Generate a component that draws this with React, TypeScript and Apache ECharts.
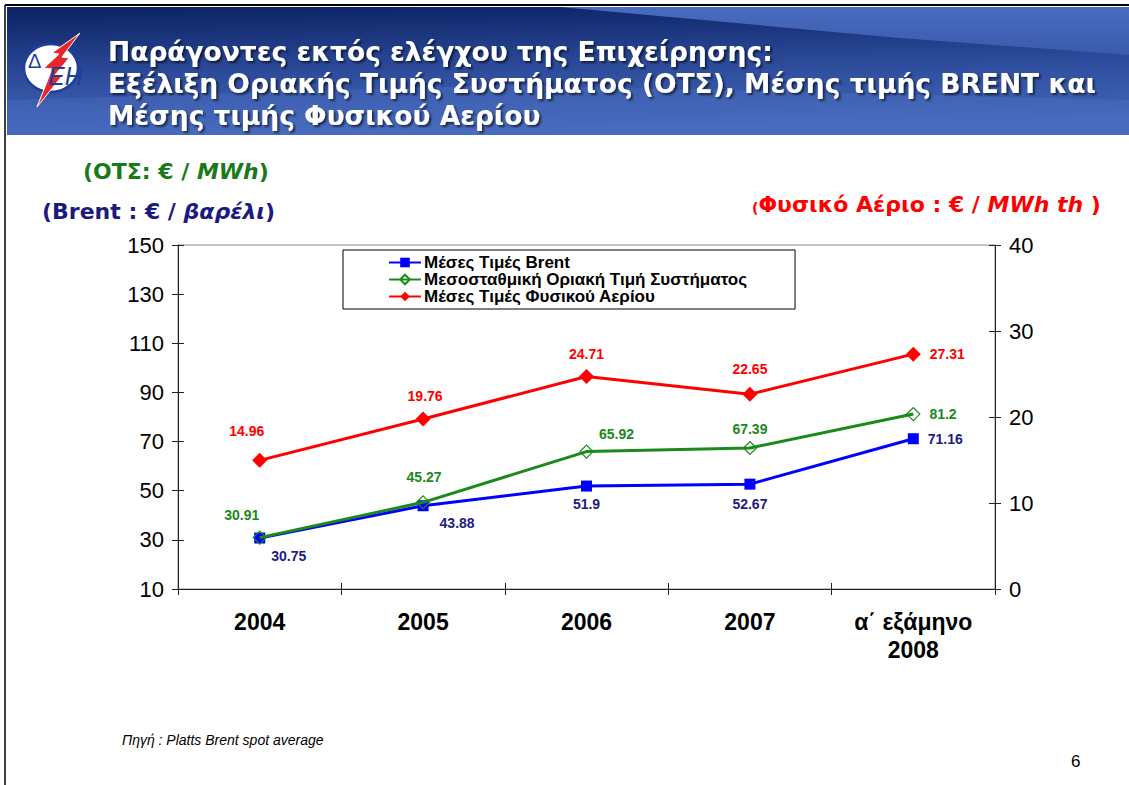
import React, { useEffect, useRef } from "react";
import * as echarts from "echarts";

const categories = ["2004", "2005", "2006", "2007", "α΄ εξάμηνο\n2008"];
const brent = [30.75, 43.88, 51.9, 52.67, 71.16];
const ots = [30.91, 45.27, 65.92, 67.39, 81.2];
const gas = [14.96, 19.76, 24.71, 22.65, 27.31];
const leftTicks = { min: 10, max: 150, interval: 20 };
const rightTicks = { min: 0, max: 40, interval: 10 };

const seriesNames = [
  "Μέσες Τιμές Brent",
  "Μεσοσταθμική Οριακή Τιμή Συστήματος",
  "Μέσες Τιμές Φυσικού Αερίου",
];

const brentLabelCfg = [
  { position: "bottom", offset: [29, 0] },
  { position: "bottom", offset: [34, 0] },
  { position: "bottom", offset: [0, 0] },
  { position: "bottom", offset: [0, 2] },
  { position: "right", offset: [4, 0] },
];
const otsLabelCfg = [
  { position: "top", offset: [-18, -4] },
  { position: "top", offset: [1, -6] },
  { position: "top", offset: [30, 2] },
  { position: "top", offset: [0, 0] },
  { position: "right", offset: [4, 0] },
];
const gasLabelCfg = [
  { position: "top", offset: [-13, -10] },
  { position: "top", offset: [2, -4] },
  { position: "top", offset: [0, -3] },
  { position: "top", offset: [0, -6] },
  { position: "right", offset: [4, 0] },
];

const FONT = "'Liberation Sans', Arial, sans-serif";
const WIDE = "'DejaVu Sans', Verdana, sans-serif";

export default function App() {
  const ref = useRef<HTMLDivElement>(null);
  useEffect(() => {
    if (!ref.current) return;
    const chart = echarts.init(ref.current, null, { renderer: "svg" });
    const labelStyle = (color: string) => ({
      show: true,
      color,
      fontFamily: FONT,
      fontWeight: "bold",
      fontSize: 14,
    });
    const mk = (vals: number[], cfg: any[], color: string) =>
      vals.map((v, i) => ({
        value: v,
        label: { ...labelStyle(color), position: cfg[i].position, offset: cfg[i].offset },
      }));

    const valueAxisBase = (pos: string, t: any) => ({
      type: "value",
      position: pos,
      min: t.min,
      max: t.max,
      interval: t.interval,
      splitLine: { show: false },
      axisLine: { show: true, lineStyle: { color: "#222" } },
      axisTick: { show: true, length: 6, lineStyle: { color: "#222" } },
      axisLabel: { fontFamily: FONT, fontSize: 22, color: "#000", margin: 14 },
    });
    const innerTickAxis = (pos: string, t: any) => ({
      type: "value",
      position: pos,
      min: t.min,
      max: t.max,
      interval: t.interval,
      splitLine: { show: false },
      axisLine: { show: false },
      axisTick: { show: true, inside: true, length: 6, lineStyle: { color: "#222" } },
      axisLabel: { show: false },
    });

    const option: any = {
      animation: false,
      backgroundColor: "#ffffff",
      grid: {
        left: 178,
        right: 134,
        top: 245,
        bottom: 196,
        show: true,
        borderColor: "#888888",
        borderWidth: 1,
      },
      legend: {
        left: 343,
        top: 250,
        orient: "vertical",
        data: seriesNames,
        itemWidth: 32,
        itemHeight: 12,
        itemGap: 0,
        padding: [4, 48, 4, 45],
        borderColor: "#000",
        borderWidth: 1,
        backgroundColor: "#fff",
        textStyle: {
          fontFamily: FONT,
          fontWeight: "bold",
          fontSize: 17,
          lineHeight: 16,
          color: "#000",
          padding: [0, 0, 0, -2],
        },
      },
      xAxis: [
        {
          type: "category",
          data: categories,
          boundaryGap: true,
          axisLine: { lineStyle: { color: "#222", width: 1 } },
          axisTick: { show: true, length: 6, lineStyle: { color: "#222" } },
          axisLabel: {
            fontFamily: FONT,
            fontWeight: "bold",
            fontSize: 23,
            color: "#000",
            margin: 19,
            lineHeight: 28,
          },
        },
        {
          type: "category",
          data: categories,
          position: "bottom",
          boundaryGap: true,
          axisLine: { show: false },
          axisTick: { show: true, inside: true, length: 6, lineStyle: { color: "#222" } },
          axisLabel: { show: false },
        },
      ],
      yAxis: [
        valueAxisBase("left", leftTicks),
        valueAxisBase("right", rightTicks),
        innerTickAxis("left", leftTicks),
        innerTickAxis("right", rightTicks),
      ],
      series: [
        {
          name: seriesNames[0],
          type: "line",
          data: mk(brent, brentLabelCfg, "#1c1c85"),
          symbol: "rect",
          symbolSize: 11,
          lineStyle: { color: "#0000ff", width: 3 },
          itemStyle: { color: "#0000ff" },
          z: 3,
        },
        {
          name: seriesNames[1],
          type: "line",
          data: mk(ots, otsLabelCfg, "#1a8a1a"),
          symbol: "diamond",
          symbolSize: 13,
          lineStyle: { color: "#1a8a1a", width: 3 },
          itemStyle: { color: "rgba(255,255,255,0)", borderColor: "#1a8a1a", borderWidth: 1.2 },
          z: 4,
        },
        {
          name: seriesNames[2],
          type: "line",
          yAxisIndex: 1,
          data: mk(gas, gasLabelCfg, "#ff0000"),
          symbol: "diamond",
          symbolSize: 15,
          lineStyle: { color: "#ff0000", width: 3 },
          itemStyle: { color: "#ff0000" },
          z: 5,
        },
      ],
      graphic: [
        // header band
        {
          type: "rect",
          shape: { x: 7, y: 7, width: 1122, height: 128 },
          style: {
            fill: new echarts.graphic.LinearGradient(0, 0, 0.15, 1, [
              { offset: 0, color: "#0b2262" },
              { offset: 0.55, color: "#2d4c9c" },
              { offset: 1, color: "#4467b8" },
            ]),
          },
          z: 0,
        },
        {
          type: "polygon",
          shape: { points: [[560, 7], [1129, 7], [1129, 55], [900, 38]] },
          style: {
            fill: new echarts.graphic.LinearGradient(0, 0, 0, 1, [
              { offset: 0, color: "#4a6cc0" },
              { offset: 1, color: "#3a5aab" },
            ]),
          },
          z: 0,
        },
        {
          type: "polygon",
          shape: { points: [[7, 100], [500, 85], [1129, 100], [1129, 135], [7, 135]] },
          style: { fill: "rgba(80,115,200,0.35)" },
          z: 0,
        },
        // frame
        { type: "line", shape: { x1: 5, y1: 5, x2: 1129, y2: 5 }, style: { stroke: "#000", lineWidth: 2 }, z: 1 },
        { type: "line", shape: { x1: 5, y1: 5, x2: 5, y2: 785 }, style: { stroke: "#000", lineWidth: 1.5 }, z: 1 },
        // logo
        {
          type: "ellipse",
          shape: { cx: 51, cy: 68, rx: 27, ry: 24 },
          style: { fill: "#ffffff", stroke: "#1f3f9f", lineWidth: 2.5 },
          z: 2,
        },
        {
          type: "polygon",
          shape: {
            points: [[80, 33], [52, 53], [59, 54], [44, 68], [52, 69], [37, 107], [62, 76], [55, 75], [69, 58], [62, 57], [80, 33]],
          },
          style: { fill: "#e8262a", stroke: "#ffffff", lineWidth: 1 },
          z: 3,
        },
        {
          type: "text",
          x: 28,
          y: 51,
          style: { text: "Δ", fill: "#1f3f9f", fontSize: 20, fontFamily: "Liberation Sans" },
          z: 5,
        },
        {
          type: "text",
          x: 48,
          y: 63,
          style: { text: "ΕΗ", fill: "#1f3f9f", fontSize: 25, fontStyle: "italic", fontFamily: "Liberation Sans" },
          z: 5,
        },
        // title
        {
          type: "text",
          x: 108,
          y: 35,
          style: {
            text: "Παράγοντες εκτός ελέγχου της Επιχείρησης:\nΕξέλιξη Οριακής Τιμής Συστήματος (ΟΤΣ), Μέσης τιμής BRENT και\nΜέσης τιμής Φυσικού Αερίου",
            fill: "#ffffff",
            font: `bold 26.5px ${WIDE}`,
            lineHeight: 32,
            textShadowColor: "rgba(0,0,0,0.6)",
            textShadowOffsetX: 2,
            textShadowOffsetY: 2,
            textShadowBlur: 2,
          },
          z: 4,
        },
        // axis titles
        {
          type: "text",
          x: 83,
          y: 160,
          style: {
            text: "{a|(ΟΤΣ: € / }{b|MWh}{a|)}",
            rich: {
              a: { fill: "#1a7a1a", fontFamily: WIDE, fontWeight: "bold", fontSize: 22 },
              b: { fill: "#1a7a1a", fontFamily: WIDE, fontWeight: "bold", fontStyle: "italic", fontSize: 22 },
            },
          },
          z: 4,
        },
        {
          type: "text",
          x: 42,
          y: 200,
          style: {
            text: "{a|(Brent : € / }{b|βαρέλι}{a|)}",
            rich: {
              a: { fill: "#1a1a80", fontFamily: WIDE, fontWeight: "bold", fontSize: 22 },
              b: { fill: "#1a1a80", fontFamily: WIDE, fontWeight: "bold", fontStyle: "italic", fontSize: 22 },
            },
          },
          z: 4,
        },
        {
          type: "text",
          x: 752,
          y: 193,
          style: {
            text: "{s|(}{a|Φυσικό Αέριο : € / }{b|MWh th}{a| )}",
            rich: {
              s: { fill: "#ff0000", fontFamily: WIDE, fontWeight: "bold", fontSize: 14, verticalAlign: "bottom" },
              a: { fill: "#ff0000", fontFamily: WIDE, fontWeight: "bold", fontSize: 22 },
              b: { fill: "#ff0000", fontFamily: WIDE, fontWeight: "bold", fontStyle: "italic", fontSize: 22 },
            },
          },
          z: 4,
        },
        // footer
        {
          type: "text",
          x: 122,
          y: 733,
          style: { text: "Πηγή : Platts Brent spot average", fill: "#000", font: `italic 14px ${FONT}` },
          z: 4,
        },
        {
          type: "text",
          x: 1071,
          y: 753,
          style: { text: "6", fill: "#000", font: `17px ${FONT}` },
          z: 4,
        },
      ],
    };
    chart.setOption(option);
    return () => chart.dispose();
  }, []);
  return (
    <div
      ref={ref}
      style={{ position: "fixed", left: 0, top: 0, width: 1129, height: 785 }}
    />
  );
}
